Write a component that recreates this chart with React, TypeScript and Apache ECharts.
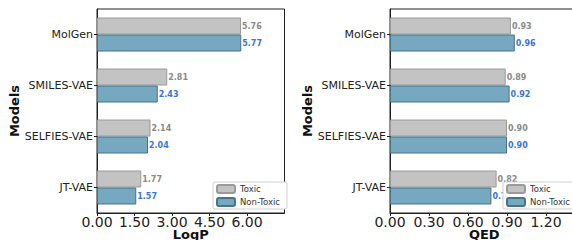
import React, { useEffect, useRef } from "react";
import * as echarts from "echarts";

const models = ["MolGen", "SMILES-VAE", "SELFIES-VAE", "JT-VAE"];
const logpToxic = [5.76, 2.81, 2.14, 1.77];
const logpNonToxic = [5.77, 2.43, 2.04, 1.57];
const qedToxic = [0.93, 0.89, 0.9, 0.82];
const qedNonToxic = [0.96, 0.92, 0.9, 0.78];
const seriesNames = ["Toxic", "Non-Toxic"];

const FONT = "DejaVu Sans";
const GRAY = "#c3c3c3";
const GRAY_BORDER = "#9a9a9a";
const BLUE = "#76a8bf";
const BLUE_BORDER = "#44738a";

function makeXAxis(gridIndex: number, max: number, interval: number, name: string) {
  return {
    type: "value",
    gridIndex,
    min: 0,
    max,
    interval,
    name,
    nameLocation: "middle",
    nameGap: 15,
    nameMoveOverlap: false,
    nameTextStyle: {
      fontSize: 13,
      fontWeight: "bold",
      color: "#111",
      fontFamily: FONT,
      lineHeight: 12,
      verticalAlign: "top",
    },
    axisLine: { show: true, lineStyle: { color: "#222", width: 1 } },
    axisTick: { show: true, length: 3, lineStyle: { color: "#222" } },
    splitLine: { show: false },
    axisLabel: {
      fontSize: 14,
      color: "#222",
      margin: 3,
      fontFamily: FONT,
      lineHeight: 12,
      showMaxLabel: false,
      formatter: (v: number) => v.toFixed(2),
    },
  };
}

function makeYAxis(gridIndex: number, nameGap: number) {
  return {
    type: "category",
    gridIndex,
    data: models,
    inverse: true,
    name: "Models",
    nameLocation: "middle",
    nameRotate: 90,
    nameGap,
    nameTextStyle: { fontSize: 13, fontWeight: "bold", color: "#111", fontFamily: FONT },
    axisLine: { show: true, lineStyle: { color: "#222", width: 1 } },
    axisTick: { show: true, length: 3, alignWithLabel: true, lineStyle: { color: "#222" } },
    axisLabel: { fontSize: 11, color: "#222", margin: 4, fontFamily: FONT },
    splitLine: { show: false },
  };
}

function makeSeries(name: string, idx: number, data: number[], isToxic: boolean) {
  return {
    type: "bar",
    name,
    xAxisIndex: idx,
    yAxisIndex: idx,
    data,
    barWidth: 17,
    barGap: "0%",
    itemStyle: {
      color: isToxic ? GRAY : BLUE,
      borderColor: isToxic ? GRAY_BORDER : BLUE_BORDER,
      borderWidth: 1,
    },
    label: {
      show: true,
      position: "right",
      distance: 1,
      fontSize: 8,
      fontWeight: "bold",
      fontFamily: FONT,
      color: isToxic ? "#8a8a8a" : "#3b74d6",
      formatter: (p: any) => Number(p.value).toFixed(2),
    },
  };
}

function makeLegend(left: number) {
  return {
    left,
    top: 182,
    orient: "vertical",
    data: seriesNames,
    itemWidth: 18,
    itemHeight: 8,
    itemGap: 3,
    padding: [2, 7, 2, 3],
    backgroundColor: "#fff",
    borderColor: "#d0d0d0",
    borderWidth: 1,
    borderRadius: 2,
    textStyle: { fontSize: 8.5, lineHeight: 10, color: "#333", fontFamily: FONT },
    selectedMode: false,
  };
}

export default function App() {
  const ref = useRef<HTMLDivElement>(null);
  useEffect(() => {
    document.body.style.margin = "0";
    const chart = echarts.init(ref.current!, undefined, { renderer: "svg" });
    chart.setOption({
      animation: false,
      backgroundColor: "#fff",
      textStyle: { fontFamily: FONT },
      grid: [
        { left: 97, top: 9, width: 187.5, height: 204, outerBoundsMode: "none", containLabel: false, show: true, borderColor: "#222", borderWidth: 1, backgroundColor: "transparent" },
        { left: 390, top: 9, width: 188.5, height: 204, outerBoundsMode: "none", containLabel: false, show: true, borderColor: "#222", borderWidth: 1, backgroundColor: "transparent" },
      ],
      xAxis: [makeXAxis(0, 7.5, 1.5, "LogP"), makeXAxis(1, 1.45, 0.3, "QED")],
      yAxis: [makeYAxis(0, 66), makeYAxis(1, 72)],
      legend: [makeLegend(213), makeLegend(503)],
      series: [
        makeSeries("Toxic", 0, logpToxic, true),
        makeSeries("Non-Toxic", 0, logpNonToxic, false),
        makeSeries("Toxic", 1, qedToxic, true),
        makeSeries("Non-Toxic", 1, qedNonToxic, false),
      ],
    });
    return () => chart.dispose();
  }, []);
  return <div ref={ref} style={{ position: "absolute", left: 0, top: 0, width: 572, height: 240 }} />;
}
